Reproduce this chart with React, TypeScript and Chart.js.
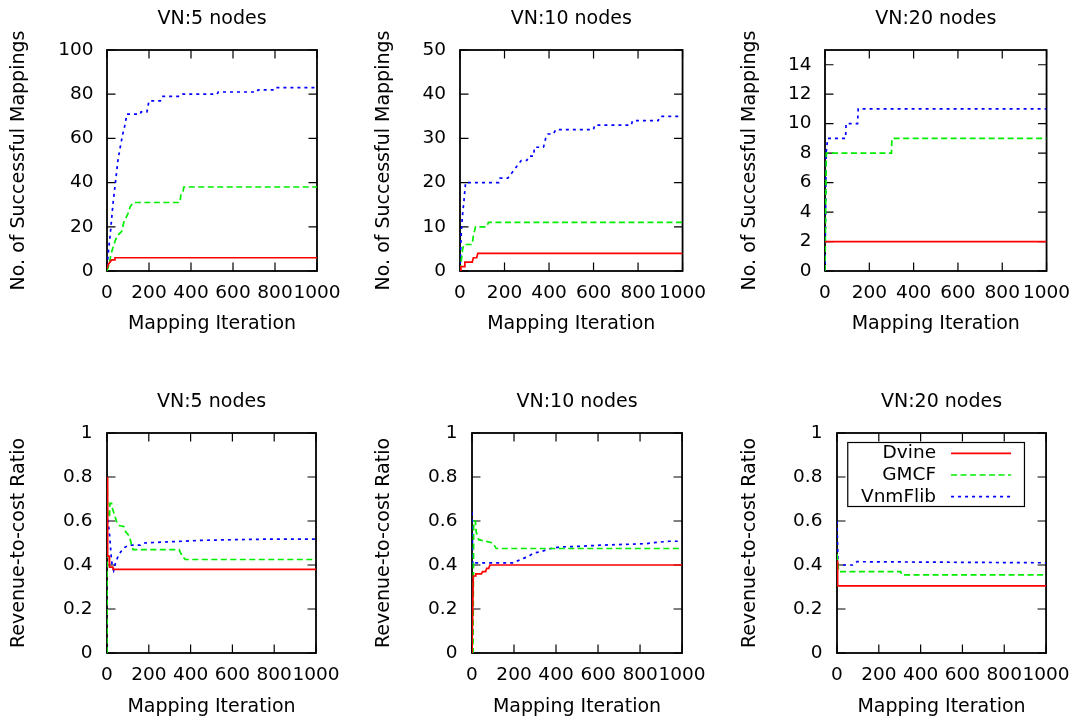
import { useEffect, useRef } from 'react';
import { Chart, registerables } from 'chart.js';

Chart.register(...registerables);

type Pt = [number, number];

// ---------- data ----------
const seriesNames = ['Dvine', 'GMCF', 'VnmFlib'];
const panelTitles = ['VN:5 nodes', 'VN:10 nodes', 'VN:20 nodes', 'VN:5 nodes', 'VN:10 nodes', 'VN:20 nodes'];
const xAxisTitle = 'Mapping Iteration';
const yTitleMappings = 'No. of Successful Mappings';
const yTitleRatio = 'Revenue-to-cost Ratio';
const xTickValues = [0, 200, 400, 600, 800, 1000];
const yMaxMappings = [100, 50, 15];
const yStepMappings = [20, 10, 2];
const yMaxRatio = 1;
const yStepRatio = 0.2;

// Successful mappings, VN:5
const map5Dvine: Pt[] = [[0, 1], [6, 3], [14, 4], [22, 5], [36, 5], [38, 6], [1000, 6]];
const map5Gmcf: Pt[] = [[0, 0], [10, 3], [20, 8], [40, 14], [50, 16], [70, 18], [80, 22], [100, 26], [110, 29], [125, 31], [348, 31], [352, 35], [362, 36], [366, 38], [1000, 38]];
const map5Vnm: Pt[] = [[0, 2], [8, 10], [16, 17], [28, 30], [40, 40], [52, 50], [63, 56], [75, 62], [83, 65], [95, 71], [159, 71], [162, 72], [190, 72], [200, 77], [254, 77], [262, 79], [349, 79], [360, 80], [524, 80], [530, 81], [714, 81], [720, 82], [794, 82], [800, 83], [1000, 83]];

// Successful mappings, VN:10
const map10Dvine: Pt[] = [[0, 0], [4, 1], [18, 1], [22, 2], [55, 2], [60, 3], [75, 3], [80, 4], [1000, 4]];
const map10Gmcf: Pt[] = [[0, 0], [5, 2], [12, 5], [18, 6], [55, 6], [60, 8], [70, 10], [120, 10], [128, 11], [1000, 11]];
const map10Vnm: Pt[] = [[0, 0], [5, 8], [10, 12], [18, 16], [25, 20], [175, 20], [180, 21], [215, 21], [230, 22], [245, 23], [260, 24], [275, 25], [300, 25], [310, 26], [330, 26], [335, 28], [375, 28], [385, 30], [395, 31], [420, 31], [430, 32], [600, 32], [605, 33], [770, 33], [775, 34], [890, 34], [900, 35], [1000, 35]];

// Successful mappings, VN:20
const map20Dvine: Pt[] = [[0, 2], [1000, 2]];
const map20Gmcf: Pt[] = [[0, 0], [6, 8], [300, 8], [302, 9], [1000, 9]];
const map20Vnm: Pt[] = [[0, 0], [5, 8], [12, 9], [93, 9], [95, 10], [147, 10], [150, 11], [1000, 11]];

// Revenue-to-cost ratio, VN:5
const ratio5Dvine: Pt[] = [[0, 0.8], [2, 0.6], [4, 0.44], [10, 0.44], [12, 0.39], [28, 0.39], [30, 0.38], [1000, 0.38]];
const ratio5Gmcf: Pt[] = [[0, 0], [1, 0.78], [3, 0.62], [12, 0.62], [14, 0.68], [22, 0.68], [25, 0.66], [35, 0.63], [45, 0.6], [55, 0.58], [80, 0.575], [90, 0.55], [100, 0.54], [110, 0.52], [118, 0.49], [125, 0.47], [345, 0.47], [355, 0.45], [370, 0.43], [375, 0.425], [1000, 0.425]];
const ratio5Vnm: Pt[] = [[0, 0.67], [5, 0.6], [13, 0.53], [20, 0.44], [25, 0.395], [32, 0.375], [38, 0.4], [45, 0.42], [56, 0.447], [70, 0.465], [85, 0.48], [103, 0.49], [160, 0.49], [175, 0.5], [290, 0.505], [450, 0.512], [605, 0.515], [800, 0.518], [1000, 0.518]];

// Revenue-to-cost ratio, VN:10
const ratio10Dvine: Pt[] = [[0, 0], [4, 0], [6, 0.35], [15, 0.35], [18, 0.36], [45, 0.36], [50, 0.37], [65, 0.37], [70, 0.385], [80, 0.385], [85, 0.4], [1000, 0.4]];
const ratio10Gmcf: Pt[] = [[0, 0], [5, 0], [8, 0.6], [16, 0.6], [20, 0.55], [27, 0.53], [32, 0.515], [55, 0.51], [100, 0.5], [115, 0.475], [1000, 0.475]];
const ratio10Vnm: Pt[] = [[0, 0.64], [4, 0.4], [15, 0.41], [200, 0.41], [220, 0.42], [245, 0.43], [270, 0.44], [295, 0.455], [330, 0.46], [355, 0.47], [385, 0.477], [420, 0.482], [515, 0.485], [610, 0.49], [735, 0.494], [830, 0.497], [880, 0.503], [940, 0.508], [1000, 0.508]];

// Revenue-to-cost ratio, VN:20
const ratio20Dvine: Pt[] = [[0, 0.42], [3, 0.305], [1000, 0.305]];
const ratio20Gmcf: Pt[] = [[0, 0.45], [8, 0.37], [305, 0.37], [310, 0.355], [1000, 0.355]];
const ratio20Vnm: Pt[] = [[0, 0.6], [5, 0.4], [75, 0.4], [95, 0.415], [1000, 0.41]];

// ---------- styles / layout ----------
const FONT = "'DejaVu Sans', sans-serif";
const TICK_SIZE = 18.5;
const TITLE_SIZE = 19;
const LH = 1.2;
const seriesColors = ['#ff0000', '#00ee00', '#0000ff'];
const seriesDash: number[][] = [[], [6, 3.5], [3, 4]];

interface PanelLayout {
  cl: number; ct: number; cw: number; ch: number;
  l: number; r: number; t: number; b: number;
  titleY: number; yTitleX: number; xTickY: number; xTitleY: number; yGap: number;
}

const ROW1 = { ct: 0, ch: 345, t: 50, b: 271, titleY: 18.8, xTickY: 293, xTitleY: 323.7 };
const ROW2 = { ct: 372, ch: 352, t: 433, b: 653, titleY: 402.5, xTickY: 675.5, xTitleY: 707 };

const layouts: PanelLayout[] = [
  { ...ROW1, cl: 0, cw: 352, l: 107, r: 317, yTitleX: 19, yGap: 13.5 },
  { ...ROW1, cl: 355, cw: 362, l: 460, r: 683, yTitleX: 384.5, yGap: 14 },
  { ...ROW1, cl: 720, cw: 361, l: 825, r: 1050, yTitleX: 750, yGap: 13.5 },
  { ...ROW2, cl: 0, cw: 352, l: 107, r: 316, yTitleX: 19, yGap: 14.5 },
  { ...ROW2, cl: 355, cw: 362, l: 472, r: 683, yTitleX: 384.5, yGap: 14.5 },
  { ...ROW2, cl: 720, cw: 361, l: 837, r: 1048, yTitleX: 750, yGap: 14.5 },
];

const panelSeries: Pt[][][] = [
  [map5Dvine, map5Gmcf, map5Vnm],
  [map10Dvine, map10Gmcf, map10Vnm],
  [map20Dvine, map20Gmcf, map20Vnm],
  [ratio5Dvine, ratio5Gmcf, ratio5Vnm],
  [ratio10Dvine, ratio10Gmcf, ratio10Vnm],
  [ratio20Dvine, ratio20Gmcf, ratio20Vnm],
];

// ---------- plugins ----------
const framePlugin = {
  id: 'gnuFrame',
  beforeDatasetsDraw(chart: any) {
    const { ctx, chartArea: a, scales } = chart;
    const xs = scales.x;
    const ys = scales.y;
    const L = 8.5;
    ctx.save();
    ctx.strokeStyle = '#000';
    ctx.lineWidth = 1.2;
    ctx.beginPath();
    xs.ticks.forEach((t: any) => {
      const px = xs.getPixelForValue(t.value);
      ctx.moveTo(px, a.bottom);
      ctx.lineTo(px, a.bottom - L);
      ctx.moveTo(px, a.top);
      ctx.lineTo(px, a.top + L);
    });
    ys.ticks.forEach((t: any) => {
      const py = ys.getPixelForValue(t.value);
      ctx.moveTo(a.left, py);
      ctx.lineTo(a.left + L, py);
      ctx.moveTo(a.right, py);
      ctx.lineTo(a.right - L, py);
    });
    ctx.stroke();
    ctx.lineWidth = 1.8;
    ctx.strokeRect(a.left, a.top, a.right - a.left, a.bottom - a.top);
    ctx.restore();
  },
};

const keyPlugin = {
  id: 'gnuKey',
  afterDatasetsDraw(chart: any) {
    const { ctx, chartArea: a } = chart;
    const boxR = a.right - 21.6;
    const boxT = a.top + 9.5;
    const boxW = 176.7;
    const boxH = 64;
    const rowH = 21.7;
    ctx.save();
    ctx.strokeStyle = '#000';
    ctx.lineWidth = 1.2;
    ctx.strokeRect(boxR - boxW, boxT, boxW, boxH);
    ctx.font = `${TICK_SIZE}px ${FONT}`;
    ctx.textAlign = 'right';
    ctx.textBaseline = 'middle';
    ctx.fillStyle = '#000';
    chart.data.datasets.forEach((ds: any, i: number) => {
      const y = boxT + 10.8 + i * rowH;
      ctx.fillText(ds.label, boxR - 88.4, y);
      ctx.strokeStyle = ds.borderColor;
      ctx.lineWidth = ds.borderWidth;
      ctx.setLineDash(ds.borderDash || []);
      ctx.beginPath();
      ctx.moveTo(boxR - 73.4, y);
      ctx.lineTo(boxR - 13.4, y);
      ctx.stroke();
      ctx.setLineDash([]);
    });
    ctx.restore();
  },
};

const fmt = (v: any) => String(+Number(v).toFixed(2));

function Panel({ index }: { index: number }) {
  const ref = useRef<HTMLCanvasElement>(null);
  const lay = layouts[index];
  useEffect(() => {
    const isRatio = index >= 3;
    const col = index % 3;
    const yMax = isRatio ? yMaxRatio : yMaxMappings[col];
    const yStep = isRatio ? yStepRatio : yStepMappings[col];
    const tickLH = TICK_SIZE * LH;
    const titleLH = TITLE_SIZE * LH;
    const cb = lay.ct + lay.ch;
    const titlePadTop = lay.titleY - lay.ct - titleLH / 2;
    const titlePadBottom = lay.t - lay.ct - titleLH - titlePadTop;
    const yAxisW = lay.l - lay.cl;
    const xAxisH = cb - lay.b;
    const chart = new Chart(ref.current as HTMLCanvasElement, {
      type: 'line',
      data: {
        datasets: panelSeries[index].map((pts, i) => ({
          label: seriesNames[i],
          data: pts.map(([x, y]) => ({ x, y })),
          borderColor: seriesColors[i],
          backgroundColor: seriesColors[i],
          borderWidth: 1.7,
          borderDash: seriesDash[i],
          pointRadius: 0,
          fill: false,
          tension: 0,
        })),
      },
      options: {
        animation: false,
        responsive: false,
        maintainAspectRatio: false,
        layout: { padding: { left: 0, top: 0, bottom: 0, right: lay.cl + lay.cw - lay.r } },
        plugins: {
          legend: { display: false },
          tooltip: { enabled: false },
          title: {
            display: true,
            text: panelTitles[index],
            fullSize: false,
            color: '#000',
            font: { family: FONT, size: TITLE_SIZE, weight: 'normal', lineHeight: LH },
            padding: { top: titlePadTop, bottom: titlePadBottom },
          },
        },
        scales: {
          x: {
            type: 'linear',
            min: 0,
            max: 1000,
            grid: { display: false, drawTicks: false },
            border: { display: false },
            afterBuildTicks: (s: any) => {
              s.ticks = xTickValues.map((v) => ({ value: v }));
            },
            afterFit: (s: any) => {
              s.height = xAxisH;
            },
            ticks: {
              autoSkip: false,
              maxRotation: 0,
              minRotation: 0,
              padding: lay.xTickY - lay.b - tickLH / 2,
              color: '#000',
              font: { family: FONT, size: TICK_SIZE, lineHeight: LH },
              callback: (v: any) => fmt(v),
            },
            title: {
              display: true,
              text: xAxisTitle,
              color: '#000',
              font: { family: FONT, size: TITLE_SIZE, lineHeight: LH },
              padding: { top: 0, bottom: cb - titleLH / 2 - lay.xTitleY },
            },
          },
          y: {
            type: 'linear',
            min: 0,
            max: yMax,
            grid: { display: false, drawTicks: false },
            border: { display: false },
            afterFit: (s: any) => {
              s.width = yAxisW;
            },
            ticks: {
              stepSize: yStep,
              includeBounds: false,
              padding: lay.yGap,
              color: '#000',
              font: { family: FONT, size: TICK_SIZE, lineHeight: LH },
              callback: (v: any) => fmt(v),
            },
            title: {
              display: true,
              text: isRatio ? yTitleRatio : yTitleMappings,
              color: '#000',
              font: { family: FONT, size: TITLE_SIZE, lineHeight: LH },
              padding: { top: lay.yTitleX - lay.cl - titleLH / 2, bottom: 0 },
            },
          },
        },
      } as any,
      plugins: index === 5 ? [framePlugin, keyPlugin] : [framePlugin],
    });
    return () => chart.destroy();
  }, [index]);
  return (
    <canvas
      ref={ref}
      width={lay.cw}
      height={lay.ch}
      style={{ position: 'absolute', left: lay.cl, top: lay.ct, width: lay.cw, height: lay.ch }}
    />
  );
}

export default function App() {
  return (
    <div style={{ position: 'fixed', left: 0, top: 0, width: 1081, height: 724, background: '#fff', overflow: 'hidden' }}>
      {layouts.map((_, i) => (
        <Panel key={i} index={i} />
      ))}
    </div>
  );
}
